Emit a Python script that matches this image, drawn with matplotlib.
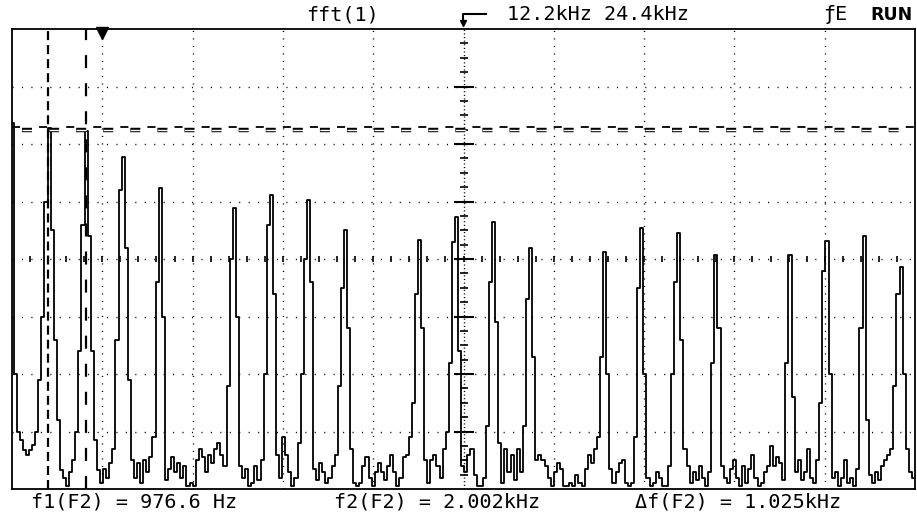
import numpy as np
import matplotlib
matplotlib.use("Agg")
import matplotlib.pyplot as plt
from matplotlib.lines import Line2D

plt.rcParams['lines.scale_dashes'] = False

# screen layout of the scope: 10 x 2.44 kHz across, 8 divisions up
SPAN_KHZ = 24.4
KHZ_PER_DIV = 2.44
N_VDIV = 8

# FFT trace, one value per display column,
# in divisions above the bottom line of the graticule
spectrum = [
    6.37, 2.0, 1.0, 0.85, 0.68, 0.6, 0.68, 0.77, 1.0, 1.9, 3.0, 5.0,
    6.28, 4.5, 2.6, 1.2, 0.33, 0.2, 0.05, 0.3, 0.5, 1.0, 2.4, 4.6,
    6.23, 4.4, 2.4, 0.85, 0.33, 0.1, 0.35, 0.2, 0.45, 0.7, 2.6, 5.2,
    5.77, 4.2, 1.9, 0.5, 0.2, 0.45, 0.1, 0.5, 0.3, 0.55, 0.9, 3.6,
    5.23, 3.0, 0.15, 0.35, 0.55, 0.3, 0.45, 0.2, 0.4, 0.05, 0.1, 0.05,
    0.5, 0.7, 0.55, 0.3, 0.6, 0.45, 0.7, 0.8, 0.6, 0.4, 1.8, 4.0,
    4.89, 3.0, 0.4, 0.2, 0.35, 0.05, 0.1, 0.4, 0.15, 0.5, 2.0, 4.6,
    5.11, 3.4, 0.6, 0.2, 0.9, 0.6, 0.3, 0.05, 0.2, 0.8, 2.0, 4.0,
    5.03, 3.6, 0.35, 0.15, 0.45, 0.3, 0.1, 0.2, 0.4, 0.6, 1.8, 3.5,
    4.5, 2.8, 0.7, 0.1, 0.05, 0.1, 0.4, 0.55, 0.2, 0.05, 0.3, 0.45,
    0.3, 0.15, 0.4, 0.6, 0.3, 0.05, 0.2, 0.55, 0.6, 0.9, 1.5, 3.4,
    4.33, 2.8, 0.5, 0.1, 0.5, 0.6, 0.4, 0.2, 0.7, 1.0, 2.2, 4.3,
    4.73, 2.4, 0.4, 0.3, 0.6, 0.7, 0.25, 0.05, 0.05, 0.2, 1.1, 3.6,
    4.64, 2.9, 0.8, 0.1, 0.7, 0.3, 0.6, 0.15, 0.7, 0.3, 1.1, 3.3,
    4.19, 2.3, 0.5, 0.6, 0.5, 0.4, 0.2, 0.05, 0.3, 0.45, 0.35, 0.05,
    0.05, 0.1, 0.05, 0.25, 0.1, 0.05, 0.35, 0.6, 0.45, 0.7, 0.9, 2.3,
    4.12, 2.0, 0.35, 0.1, 0.3, 0.45, 0.5, 0.1, 0.05, 0.1, 0.9, 3.5,
    4.54, 2.0, 0.2, 0.05, 0.1, 0.3, 0.2, 0.05, 0.05, 0.4, 2.0, 3.6,
    4.45, 2.6, 0.7, 0.4, 0.1, 0.3, 0.15, 0.4, 0.2, 0.05, 0.3, 2.2,
    4.07, 2.8, 0.4, 0.2, 0.1, 0.35, 0.5, 0.2, 0.05, 0.4, 0.1, 0.35,
    0.6, 0.2, 0.05, 0.1, 0.3, 0.4, 0.75, 0.4, 0.55, 0.45, 0.15, 2.2,
    4.07, 1.6, 0.3, 0.5, 0.15, 0.3, 0.7, 0.2, 0.1, 0.5, 1.5, 3.8,
    4.31, 2.0, 0.2, 0.3, 0.05, 0.2, 0.5, 0.1, 0.2, 0.05, 0.35, 2.8,
    4.40, 1.2, 0.25, 0.1, 0.3, 0.15, 0.4, 0.5, 0.6, 0.7, 1.8, 3.4,
    3.86, 2.0, 0.7, 0.3, 0.2,
]
BIN_KHZ = SPAN_KHZ / 292.5

# cursors
f1_khz = 0.9766
f2_khz = 2.002
level_1 = 6.30
level_2 = 6.24

header_left = "fft(1)"
header_mid = "12.2kHz 24.4kHz"
header_trig = "ƒE"
header_run = "RUN"
readouts = ["f1(F2) = 976.6 Hz", "f2(F2) = 2.002kHz", "\u0394f(F2) = 1.025kHz"]

W, H = 917, 515


def fx(px):
    return px / W


def fy(py):
    return 1 - py / H


fig = plt.figure(figsize=(W / 100, H / 100), dpi=100)
fig.patch.set_facecolor('white')
ax = fig.add_axes([fx(12), fy(489), 903 / W, 460 / H])
ax.set_xlim(0, SPAN_KHZ)
ax.set_ylim(0, N_VDIV)
ax.set_xticks([])
ax.set_yticks([])
for s in ax.spines.values():
    s.set_linewidth(1.3)
    s.set_color('black')

# graticule
center_x = SPAN_KHZ / 2
for i in range(1, 10):
    if i == 5:
        ax.axvline(i * KHZ_PER_DIV, color='k', lw=1, ls=(0, (0.8, 1.8)))
    else:
        ax.axvline(i * KHZ_PER_DIV, color='k', lw=1, ls=(0, (0.8, 4.6)))
for j in range(1, N_VDIV):
    ax.axhline(j, color='k', lw=1, ls=(0, (0.8, 6.0)))

yt = np.arange(0.25, N_VDIV, 0.25)
ax.plot(np.full_like(yt, center_x), yt, ls='none', marker='_', ms=6, mew=1.2, color='k')
ymaj = np.arange(1, N_VDIV)
ax.plot(np.full_like(ymaj, center_x, dtype=float), ymaj, ls='none', marker='_', ms=14, mew=1.5, color='k')
xt = np.arange(KHZ_PER_DIV / 5, SPAN_KHZ, KHZ_PER_DIV / 5)
ax.plot(xt, np.full_like(xt, N_VDIV / 2), ls='none', marker='|', ms=5, mew=1.2, color='k')

# trace, drawn column by column like the scope does
freq = np.arange(len(spectrum)) * BIN_KHZ
ax.plot(freq, spectrum, color='k', lw=1.3, drawstyle='steps-mid')

# cursors
ax.axvline(f1_khz, color='k', lw=1.6, ls=(0, (6.5, 3.6)))
ax.axvline(f2_khz, color='k', lw=1.6, ls=(0, (9.4, 10.8)))
ax.axhline(level_1, color='k', lw=1.3, ls=(0, (5.8, 13.7)))
ax.axhline(level_2, color='k', lw=3.2, ls=(12.3, (7.2, 12.3)))
ax.axhline(level_2, color='white', lw=1.0, ls=(12.3, (7.2, 12.3)))

# reference marker at the top
ax.plot([KHZ_PER_DIV], [N_VDIV - 0.07], marker='v', ms=8, color='k', clip_on=False)

# header arrow
fig.add_artist(Line2D([fx(486), fx(463), fx(463)], [fy(14), fy(14), fy(22)],
                      color='k', lw=1.5))
fig.add_artist(Line2D([fx(463)], [fy(23)], marker='v', ms=5, color='k'))

mono = dict(family='DejaVu Sans Mono', fontsize=14.5, va='center', color='black')
fig.text(fx(342), fy(15), header_left, ha='center', **mono)
fig.text(fx(598), fy(15), header_mid, ha='center', **mono)
fig.text(fx(835), fy(15), header_trig, ha='center', **mono)
fig.text(fx(891), fy(15), header_run, ha='center', va='center',
         family='DejaVu Sans', fontsize=12.5, fontweight='bold', color='black')

for txt, cx in zip(readouts, [134, 437, 738]):
    fig.text(fx(cx), fy(502), txt, ha='center', **mono)

fig.savefig('out.png', dpi=100)
